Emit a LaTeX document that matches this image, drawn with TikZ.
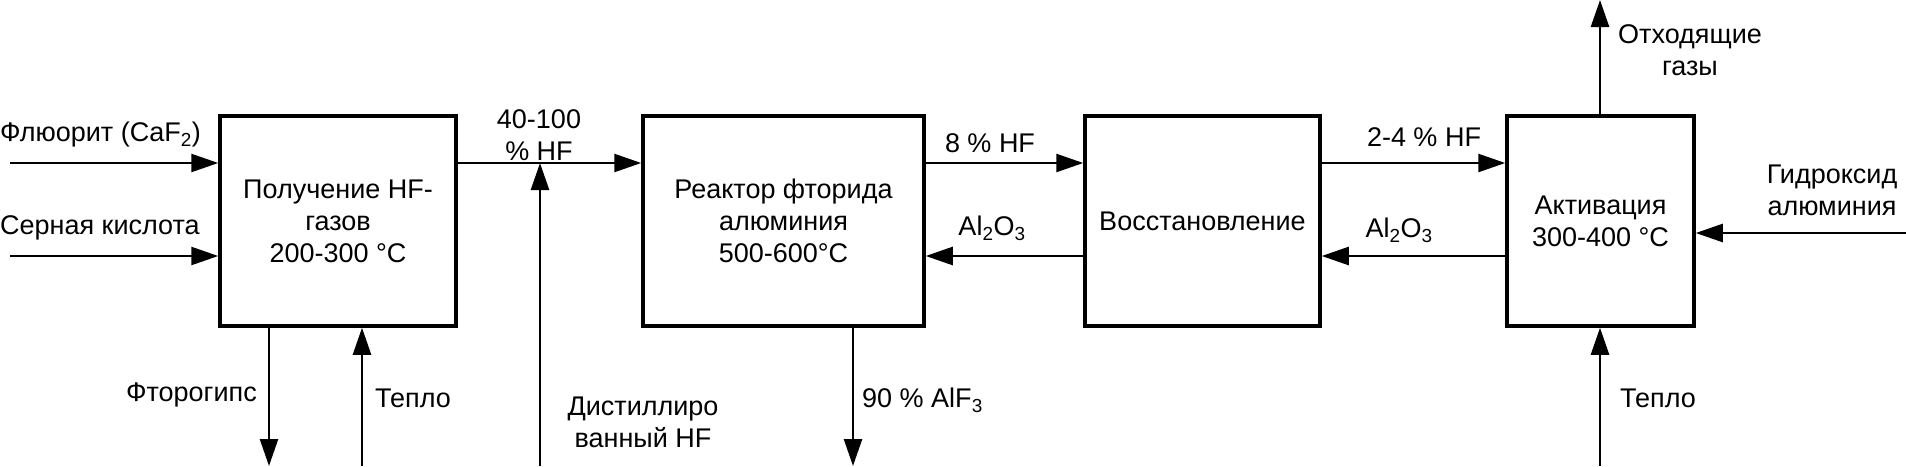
\documentclass[tikz,border=0pt]{standalone}
\usepackage{fontspec}
\setmainfont{Liberation Sans}
\usetikzlibrary{arrows.meta,positioning}
\tikzset{
  box/.style={draw, line width=3.5pt, minimum height=210pt, align=center, inner sep=0pt},
  flow/.style={line width=2.5pt, -{Triangle[length=27pt,width=18pt]}},
  lbl/.style={align=center, inner sep=0pt},
  every node/.style={font=\fontsize{27}{32}\selectfont},
}
\begin{document}
\begin{tikzpicture}[x=1pt,y=-1pt]
\useasboundingbox (0,0) rectangle (1906,466);
% blocks
\node[box, minimum width=236pt] (hfgas) at (338,221) {Получение HF-\\газов\\200-300 °C};
\node[box, minimum width=281pt] (reactor) at (783.5,221) {Реактор фторида\\алюминия\\500-600°C};
\node[box, minimum width=235pt] (recovery) at (1202.5,221) {Восстановление};
\node[box, minimum width=187pt] (activation) at (1600.5,221) {Активация\\300-400 °C};
% free ends
\coordinate (in1) at (10,163);
\coordinate (in2) at (10,256);
\coordinate (gyps) at (269,466);
\coordinate (heat1) at (362,466);
\coordinate (dist) at (540,466);
\coordinate (alf) at (853,466);
\coordinate (gas) at (1600,0);
\coordinate (hydr) at (1906,233);
\coordinate (heat2) at (1600,466);
% labels
\node[lbl, anchor=west] (fluo) at (0,135) {Флюорит (CaF\textsubscript{2})};
\node[lbl, anchor=west] (acid) at (0,228) {Серная кислота};
\node[lbl] (hfconc) at (539,135) {40-100\\\% HF};
\node[lbl, anchor=east] (gypslbl) at (257,395) {Фторогипс};
\node[lbl, anchor=west] (heatlbl) at (375,398) {Тепло};
\node[lbl] (distlbl) at (643,422) {Дистиллиро\\ванный HF};
\node[lbl, anchor=west] (alflbl) at (862,400) {90 \% AlF\textsubscript{3}};
\node[lbl] (hf8) at (990,143) {8 \% HF};
\node[lbl] (alox1) at (992,228) {Al\textsubscript{2}O\textsubscript{3}};
\node[lbl] (hf24) at (1424,137) {2-4 \% HF};
\node[lbl] (alox2) at (1399,230) {Al\textsubscript{2}O\textsubscript{3}};
\node[lbl] (gaslbl) at (1690,50) {Отходящие\\газы};
\node[lbl] (hydrlbl) at (1832,190) {Гидроксид\\алюминия};
\node[lbl, anchor=west] (heat2lbl) at (1620,398) {Тепло};
% flows
\draw[flow] (in1) -- (in1 -| hfgas.west);
\draw[flow] (in2) -- (in2 -| hfgas.west);
\draw[flow] (hfgas.east |- in1) -- (reactor.west |- in1);
\draw[flow] (dist) -- (dist |- in1);
\draw[flow] (gyps |- hfgas.south) -- (gyps);
\draw[flow] (heat1) -- (heat1 |- hfgas.south);
\draw[flow] (alf |- reactor.south) -- (alf);
\draw[flow] (reactor.east |- in1) -- (recovery.west |- in1);
\draw[flow] (recovery.west |- in2) -- (reactor.east |- in2);
\draw[flow] (recovery.east |- in1) -- (activation.west |- in1);
\draw[flow] (activation.west |- in2) -- (recovery.east |- in2);
\draw[flow] (gas |- activation.north) -- (gas);
\draw[flow] (hydr) -- (hydr -| activation.east);
\draw[flow] (heat2) -- (heat2 |- activation.south);
\end{tikzpicture}
\end{document}
